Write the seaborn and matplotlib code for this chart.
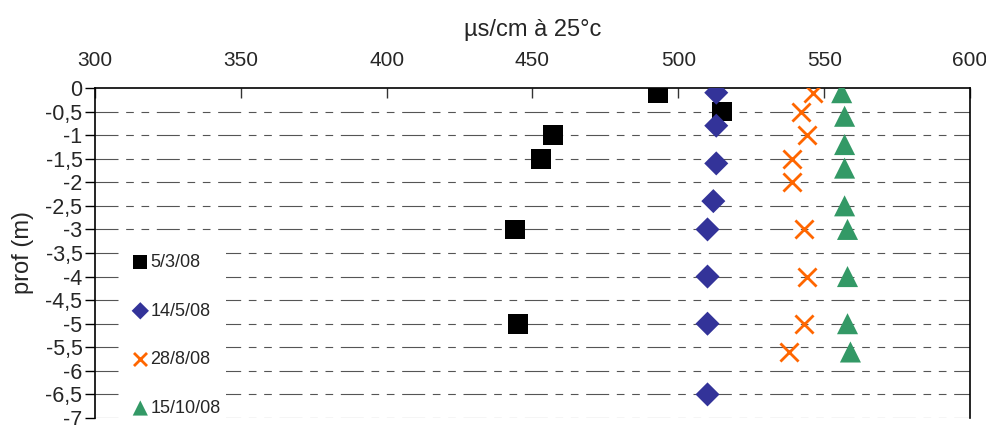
import numpy as np
import pandas as pd
import matplotlib
matplotlib.use("Agg")
import matplotlib.pyplot as plt
import seaborn as sns

# conductivity profiles (µs/cm à 25°c) vs depth (m)
dates = ['5/3/08', '14/5/08', '28/8/08', '15/10/08']

cond_0503 = [493, 515, 457, 453, 444, 445]
prof_0503 = [-0.1, -0.5, -1.0, -1.5, -3.0, -5.0]

cond_1405 = [513, 513, 513, 512, 510, 510, 510, 510]
prof_1405 = [-0.1, -0.8, -1.6, -2.4, -3.0, -4.0, -5.0, -6.5]

cond_2808 = [546, 542, 544, 539, 539, 543, 544, 543, 538]
prof_2808 = [-0.1, -0.5, -1.0, -1.5, -2.0, -3.0, -4.0, -5.0, -5.6]

cond_1510 = [556, 557, 557, 557, 557, 558, 558, 558, 559]
prof_1510 = [-0.1, -0.6, -1.2, -1.7, -2.5, -3.0, -4.0, -5.0, -5.6]

y_ticks = np.arange(0, -7.5, -0.5)
x_ticks = [300, 350, 400, 450, 500, 550, 600]

df = pd.concat([
    pd.DataFrame({'cond': cond_0503, 'prof': prof_0503, 'date': dates[0]}),
    pd.DataFrame({'cond': cond_1405, 'prof': prof_1405, 'date': dates[1]}),
    pd.DataFrame({'cond': cond_2808, 'prof': prof_2808, 'date': dates[2]}),
    pd.DataFrame({'cond': cond_1510, 'prof': prof_1510, 'date': dates[3]}),
], ignore_index=True)

sns.set_theme(style="white")
plt.rcParams['font.family'] = ['Liberation Sans', 'DejaVu Sans']

colors = {'5/3/08': '#000000', '14/5/08': '#333399', '28/8/08': '#FF6600', '15/10/08': '#339966'}
markers = {'5/3/08': 's', '14/5/08': 'D', '28/8/08': 'x', '15/10/08': '^'}
sizes = {'5/3/08': 200, '14/5/08': 150, '28/8/08': 170, '15/10/08': 230}

fig = plt.figure(figsize=(9.86, 4.25), dpi=100)
ax = fig.add_axes([0.0963, 0.0165, 0.8875, 0.7765])

# grid lines (dash-dot-dot style)
for yv in y_ticks[1:]:
    ax.axhline(yv, color='#555555', lw=0.8, dashes=(20.7, 6.9, 6.9, 6.9, 6.9, 6.9), zorder=1)

for d in dates:
    sub = df[df['date'] == d]
    kw = dict(linewidth=2) if markers[d] == 'x' else dict(edgecolor='none')
    sns.scatterplot(data=sub, x='cond', y='prof', marker=markers[d], color=colors[d],
                    s=sizes[d], label=d, ax=ax, zorder=3, **kw)

ax.set_xlim(300, 600)
ax.set_ylim(-7, 0)
ax.set_xticks(x_ticks)
ax.set_yticks(y_ticks)
ax.set_yticklabels(['0' if v == 0 else ('%g' % v).replace('.', ',') for v in y_ticks])
ax.xaxis.tick_top()
ax.xaxis.set_label_position('top')
ax.set_xlabel('µs/cm à 25°c', fontsize=17, labelpad=11)
ax.set_ylabel('prof (m)', fontsize=17, labelpad=8)
ax.tick_params(axis='x', direction='in', length=7, width=1, color='#333333', labelsize=15, pad=13, top=True, bottom=False)
ax.tick_params(axis='y', direction='out', length=7, width=1, color='black', labelsize=15.5, pad=2, left=True)

for side in ['top', 'left', 'right']:
    ax.spines[side].set_color('black')
    ax.spines[side].set_linewidth(1.2)
ax.spines['bottom'].set_visible(False)

leg = ax.legend(loc='lower left', bbox_to_anchor=(0.025, -0.04), frameon=True, fontsize=13,
                labelspacing=1.75, handletextpad=0.05, handlelength=1.0, borderpad=0.3,
                markerscale=0.72)
leg.get_frame().set_facecolor('white')
leg.get_frame().set_edgecolor('none')
leg.get_frame().set_alpha(1)

fig.savefig('out.png', dpi=100)
